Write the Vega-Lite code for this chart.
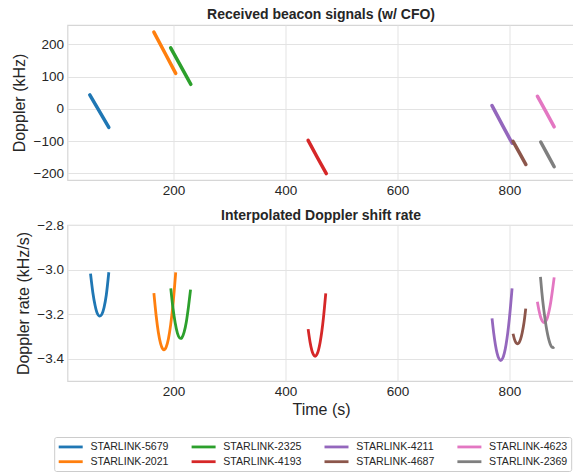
{
  "$schema": "https://vega.github.io/schema/vega-lite/v6.json",
  "padding": {"left": 9.5, "top": 7, "right": 0, "bottom": 0},
  "spacing": 10,
  "datasets": {
    "dop": [
      {"sat": "STARLINK-5679", "t": 50.5, "v": 43},
      {"sat": "STARLINK-5679", "t": 67.5, "v": -7.5},
      {"sat": "STARLINK-5679", "t": 84.5, "v": -58},
      {"sat": "STARLINK-2021", "t": 165, "v": 238},
      {"sat": "STARLINK-2021", "t": 184.5, "v": 174},
      {"sat": "STARLINK-2021", "t": 204, "v": 110},
      {"sat": "STARLINK-2325", "t": 195, "v": 189},
      {"sat": "STARLINK-2325", "t": 213, "v": 132.5},
      {"sat": "STARLINK-2325", "t": 231, "v": 76},
      {"sat": "STARLINK-4193", "t": 440.5, "v": -98},
      {"sat": "STARLINK-4193", "t": 456.5, "v": -149.5},
      {"sat": "STARLINK-4193", "t": 473, "v": -201},
      {"sat": "STARLINK-4211", "t": 769, "v": 10},
      {"sat": "STARLINK-4211", "t": 787, "v": -49},
      {"sat": "STARLINK-4211", "t": 805, "v": -107},
      {"sat": "STARLINK-4687", "t": 806.5, "v": -101},
      {"sat": "STARLINK-4687", "t": 818, "v": -137},
      {"sat": "STARLINK-4687", "t": 829.5, "v": -173},
      {"sat": "STARLINK-4623", "t": 850, "v": 39},
      {"sat": "STARLINK-4623", "t": 865, "v": -8},
      {"sat": "STARLINK-4623", "t": 880, "v": -56},
      {"sat": "STARLINK-2369", "t": 856, "v": -103},
      {"sat": "STARLINK-2369", "t": 868, "v": -141.5},
      {"sat": "STARLINK-2369", "t": 880, "v": -180}
    ],
    "rate": [
      {"sat": "STARLINK-5679", "t": 51.8, "r": -3.018},
      {"sat": "STARLINK-5679", "t": 56, "r": -3.104},
      {"sat": "STARLINK-5679", "t": 60, "r": -3.161},
      {"sat": "STARLINK-5679", "t": 64, "r": -3.197},
      {"sat": "STARLINK-5679", "t": 68.4, "r": -3.209},
      {"sat": "STARLINK-5679", "t": 72, "r": -3.201},
      {"sat": "STARLINK-5679", "t": 76, "r": -3.17},
      {"sat": "STARLINK-5679", "t": 80, "r": -3.114},
      {"sat": "STARLINK-5679", "t": 84.5, "r": -3.012},
      {"sat": "STARLINK-2021", "t": 165, "r": -3.106},
      {"sat": "STARLINK-2021", "t": 169, "r": -3.206},
      {"sat": "STARLINK-2021", "t": 173, "r": -3.282},
      {"sat": "STARLINK-2021", "t": 177, "r": -3.332},
      {"sat": "STARLINK-2021", "t": 181, "r": -3.357},
      {"sat": "STARLINK-2021", "t": 183, "r": -3.36},
      {"sat": "STARLINK-2021", "t": 187, "r": -3.347},
      {"sat": "STARLINK-2021", "t": 191, "r": -3.31},
      {"sat": "STARLINK-2021", "t": 195, "r": -3.247},
      {"sat": "STARLINK-2021", "t": 199, "r": -3.16},
      {"sat": "STARLINK-2021", "t": 204, "r": -3.013},
      {"sat": "STARLINK-2325", "t": 195.2, "r": -3.084},
      {"sat": "STARLINK-2325", "t": 199, "r": -3.171},
      {"sat": "STARLINK-2325", "t": 203, "r": -3.239},
      {"sat": "STARLINK-2325", "t": 207, "r": -3.285},
      {"sat": "STARLINK-2325", "t": 211, "r": -3.307},
      {"sat": "STARLINK-2325", "t": 213, "r": -3.309},
      {"sat": "STARLINK-2325", "t": 215, "r": -3.306},
      {"sat": "STARLINK-2325", "t": 219, "r": -3.281},
      {"sat": "STARLINK-2325", "t": 223, "r": -3.234},
      {"sat": "STARLINK-2325", "t": 227, "r": -3.163},
      {"sat": "STARLINK-2325", "t": 230.5, "r": -3.09},
      {"sat": "STARLINK-4193", "t": 440.5, "r": -3.267},
      {"sat": "STARLINK-4193", "t": 444, "r": -3.326},
      {"sat": "STARLINK-4193", "t": 447, "r": -3.361},
      {"sat": "STARLINK-4193", "t": 450, "r": -3.382},
      {"sat": "STARLINK-4193", "t": 453, "r": -3.389},
      {"sat": "STARLINK-4193", "t": 456, "r": -3.382},
      {"sat": "STARLINK-4193", "t": 459, "r": -3.361},
      {"sat": "STARLINK-4193", "t": 462, "r": -3.326},
      {"sat": "STARLINK-4193", "t": 465, "r": -3.277},
      {"sat": "STARLINK-4193", "t": 468, "r": -3.213},
      {"sat": "STARLINK-4193", "t": 472, "r": -3.107},
      {"sat": "STARLINK-4211", "t": 769, "r": -3.219},
      {"sat": "STARLINK-4211", "t": 772, "r": -3.285},
      {"sat": "STARLINK-4211", "t": 775, "r": -3.337},
      {"sat": "STARLINK-4211", "t": 778, "r": -3.375},
      {"sat": "STARLINK-4211", "t": 781, "r": -3.398},
      {"sat": "STARLINK-4211", "t": 784.5, "r": -3.408},
      {"sat": "STARLINK-4211", "t": 788, "r": -3.398},
      {"sat": "STARLINK-4211", "t": 791, "r": -3.375},
      {"sat": "STARLINK-4211", "t": 794, "r": -3.337},
      {"sat": "STARLINK-4211", "t": 797, "r": -3.285},
      {"sat": "STARLINK-4211", "t": 800, "r": -3.219},
      {"sat": "STARLINK-4211", "t": 804.8, "r": -3.084},
      {"sat": "STARLINK-4687", "t": 806.5, "r": -3.288},
      {"sat": "STARLINK-4687", "t": 809, "r": -3.312},
      {"sat": "STARLINK-4687", "t": 812, "r": -3.329},
      {"sat": "STARLINK-4687", "t": 814.5, "r": -3.333},
      {"sat": "STARLINK-4687", "t": 817, "r": -3.329},
      {"sat": "STARLINK-4687", "t": 820, "r": -3.312},
      {"sat": "STARLINK-4687", "t": 823, "r": -3.282},
      {"sat": "STARLINK-4687", "t": 826, "r": -3.24},
      {"sat": "STARLINK-4687", "t": 829.2, "r": -3.175},
      {"sat": "STARLINK-4623", "t": 850, "r": -3.144},
      {"sat": "STARLINK-4623", "t": 853, "r": -3.185},
      {"sat": "STARLINK-4623", "t": 856, "r": -3.215},
      {"sat": "STARLINK-4623", "t": 859, "r": -3.232},
      {"sat": "STARLINK-4623", "t": 862, "r": -3.238},
      {"sat": "STARLINK-4623", "t": 865, "r": -3.232},
      {"sat": "STARLINK-4623", "t": 868, "r": -3.215},
      {"sat": "STARLINK-4623", "t": 871, "r": -3.185},
      {"sat": "STARLINK-4623", "t": 874, "r": -3.144},
      {"sat": "STARLINK-4623", "t": 877, "r": -3.092},
      {"sat": "STARLINK-4623", "t": 880, "r": -3.035},
      {"sat": "STARLINK-2369", "t": 855.5, "r": -3.033},
      {"sat": "STARLINK-2369", "t": 858, "r": -3.102},
      {"sat": "STARLINK-2369", "t": 861, "r": -3.171},
      {"sat": "STARLINK-2369", "t": 864, "r": -3.228},
      {"sat": "STARLINK-2369", "t": 867, "r": -3.275},
      {"sat": "STARLINK-2369", "t": 870, "r": -3.31},
      {"sat": "STARLINK-2369", "t": 873, "r": -3.335},
      {"sat": "STARLINK-2369", "t": 876, "r": -3.348},
      {"sat": "STARLINK-2369", "t": 878, "r": -3.35},
      {"sat": "STARLINK-2369", "t": 880, "r": -3.347}
    ]
  },
  "vconcat": [
    {
      "width": 507,
      "height": 155,
      "title": {"text": "Received beacon signals (w/ CFO)"},
      "data": {"name": "dop"},
      "mark": {"type": "line", "strokeWidth": 3.5, "strokeCap": "round"},
      "encoding": {
        "x": {"field": "t", "type": "quantitative", "scale": {"domain": [10.7, 916.3], "nice": false, "zero": false},
              "axis": {"title": null, "values": [200, 400, 600, 800], "labelPadding": 3}},
        "y": {"field": "v", "type": "quantitative", "scale": {"domain": [-221, 260], "nice": false, "zero": false},
              "axis": {"title": "Doppler (kHz)", "values": [-200, -100, 0, 100, 200], "minExtent": 34, "maxExtent": 34, "titlePadding": 6.5}},
        "color": {"field": "sat", "type": "nominal",
          "scale": {"domain": ["STARLINK-5679", "STARLINK-2021", "STARLINK-2325", "STARLINK-4193", "STARLINK-4211", "STARLINK-4687", "STARLINK-4623", "STARLINK-2369"],
                    "range": ["#1f77b4", "#ff7f0e", "#2ca02c", "#d62728", "#9467bd", "#8c564b", "#e377c2", "#7f7f7f"]},
          "legend": {"orient": "none", "legendX": -13.3, "legendY": 412, "columns": 4, "title": null,
                     "symbolType": "M-1,0L3.8,0", "symbolSize": 100, "symbolStrokeWidth": 2.8, "symbolFillColor": "transparent",
                     "labelFontSize": 10.6, "labelOffset": 20.2, "columnPadding": 15.9, "rowPadding": 2.2, "gridAlign": "all",
                     "padding": 3, "strokeColor": "#cccccc", "fillColor": "white", "cornerRadius": 2, "labelColor": "#262626", "labelLimit": 200}},
        "detail": {"field": "sat"}
      }
    },
    {
      "width": 507,
      "height": 156,
      "title": {"text": "Interpolated Doppler shift rate", "offset": -5},
      "data": {"name": "rate"},
      "mark": {"type": "line", "strokeWidth": 2.8, "interpolate": "monotone"},
      "encoding": {
        "x": {"field": "t", "type": "quantitative", "scale": {"domain": [10.7, 916.3], "nice": false, "zero": false},
              "axis": {"title": "Time (s)", "values": [200, 400, 600, 800], "labelPadding": 3, "titlePadding": 3.5}},
        "y": {"field": "r", "type": "quantitative", "scale": {"domain": [-3.5, -2.8], "nice": false, "zero": false},
              "axis": {"title": "Doppler rate (kHz/s)", "values": [-3.4, -3.2, -3.0, -2.8], "format": ".1f", "minExtent": 34, "maxExtent": 34, "titlePadding": 2.5}},
        "color": {"field": "sat", "type": "nominal",
          "scale": {"domain": ["STARLINK-5679", "STARLINK-2021", "STARLINK-2325", "STARLINK-4193", "STARLINK-4211", "STARLINK-4687", "STARLINK-4623", "STARLINK-2369"],
                    "range": ["#1f77b4", "#ff7f0e", "#2ca02c", "#d62728", "#9467bd", "#8c564b", "#e377c2", "#7f7f7f"]},
          "legend": {"orient": "none", "legendX": -13.3, "legendY": 412, "columns": 4, "title": null,
                     "symbolType": "M-1,0L3.8,0", "symbolSize": 100, "symbolStrokeWidth": 2.8, "symbolFillColor": "transparent",
                     "labelFontSize": 10.6, "labelOffset": 20.2, "columnPadding": 15.9, "rowPadding": 2.2, "gridAlign": "all",
                     "padding": 3, "strokeColor": "#cccccc", "fillColor": "white", "cornerRadius": 2, "labelColor": "#262626", "labelLimit": 200}},
        "detail": {"field": "sat"}
      }
    }
  ],
  "config": {
    "font": "Liberation Sans",
    "view": {"stroke": "#d6d6d6", "strokeWidth": 1.2},
    "axis": {"grid": true, "gridColor": "#e3e3e3", "gridWidth": 1, "domain": false, "ticks": false, "tickSize": 0,
             "labelFontSize": 13.5, "labelColor": "#262626", "titleColor": "#262626", "titleFontSize": 16, "titleFontWeight": "normal", "labelPadding": 4},
    "title": {"fontSize": 14, "fontWeight": "bold", "color": "#262626", "offset": 3}
  }
}
